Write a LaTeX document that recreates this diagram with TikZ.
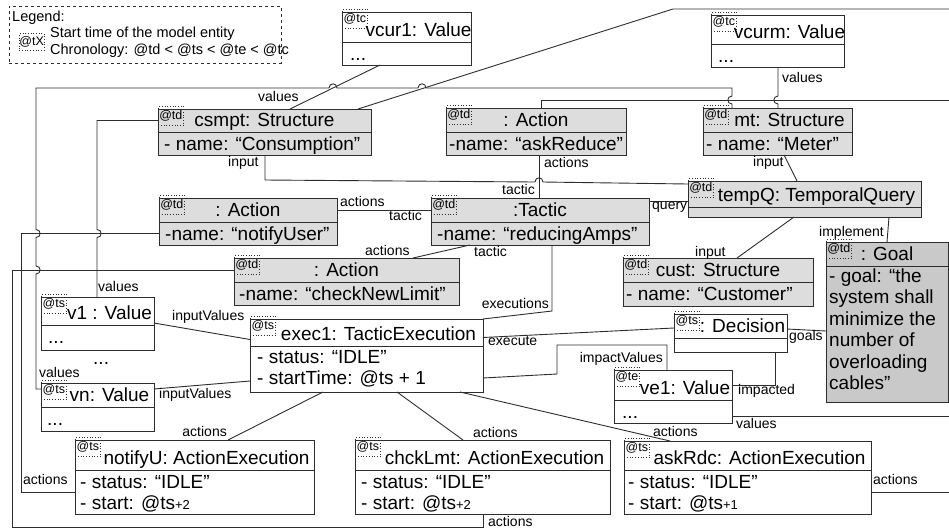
\documentclass[tikz,border=0pt]{standalone}
\usepackage{fontspec}
\setmainfont{Liberation Sans}
\usetikzlibrary{calc}

\definecolor{boxgray}{RGB}{221,221,221}
\definecolor{goalgray}{RGB}{201,201,201}
\definecolor{inkline}{RGB}{45,45,45}

\newcommand{\objfont}{\fontsize{19}{21.5}\selectfont}
\newcommand{\lblfont}{\fontsize{14}{16}\selectfont}
\newcommand{\tagfont}{\fontsize{12.5}{13}\selectfont}
\newcommand{\legfont}{\fontsize{14.5}{17}\selectfont}
\newcommand{\fl}{\rule{0pt}{14pt}}
\newcommand{\sml}[1]{{\fontsize{13}{13}\selectfont#1}}

\tikzset{
  objrow/.style={draw=inkline, line width=1pt, anchor=north west, inner sep=0pt, outer sep=0pt},
  tagbox/.style={draw=inkline, dotted, line width=0.7pt, anchor=north west, inner sep=0pt,
    minimum width=25pt, minimum height=19pt, font=\tagfont},
  objtitle/.style={anchor=base, inner sep=0pt, font=\objfont},
  objattr/.style={anchor=north west, inner sep=0pt, align=left, font=\objfont},
  lbl/.style={anchor=base west, inner sep=0pt, font=\lblfont},
  conn/.style={draw=inkline, line width=0.9pt},
}

% name, x, y, width, title height, attribute height, time tag, fill
\newcommand{\objbox}[8]{%
  \node[objrow, fill=#8, minimum width=#4pt, minimum height=#5pt] (#1) at (#2,#3) {};
  \node[objrow, fill=#8, minimum width=#4pt, minimum height=#6pt] (#1-a) at (#1.south west) {};
  \node[tagbox] (#1-t) at ([yshift=3pt]#1.north west) {@#7};
}

\begin{document}
\begin{tikzpicture}[x=1pt, y=-1pt]
\useasboundingbox (0,0) rectangle (949,531);

% legend
\node[objrow, dashed, line width=0.8pt, minimum width=272pt, minimum height=57pt] (legend) at (9,6) {};
\node[anchor=base west, inner sep=0pt, font=\legfont] (leg-head) at (12,21) {Legend:};
\node[tagbox, minimum width=24pt, minimum height=17pt] (leg-tag) at (19,33) {@tX};
\node[anchor=base west, inner sep=0pt, font=\legfont] (leg-start) at (50,37) {Start time of the model entity};
\node[anchor=base west, inner sep=0pt, font=\legfont] (leg-chron) at (50,54) {Chronology: @td < @ts < @te < @tc};

% model entities
\objbox{vcur1}{342}{12}{129}{30}{23}{tc}{white}
\node[objtitle] (vcur1-n) at ([xshift=12pt,yshift=6pt]vcur1.south) {vcur1: Value};
\node[objattr] (vcur1-v) at ([xshift=8pt,yshift=-4pt]vcur1-a.north west) {\fl...};

\objbox{vcurm}{711}{15}{133}{29}{23}{tc}{white}
\node[objtitle] (vcurm-n) at ([xshift=12pt,yshift=6pt]vcurm.south) {vcurm: Value};
\node[objattr] (vcurm-v) at ([xshift=7pt,yshift=-4pt]vcurm-a.north west) {\fl...};

\objbox{csmpt}{158}{109}{213}{23}{23}{td}{boxgray}
\node[objtitle] (csmpt-n) at ([yshift=6pt]csmpt.south) {csmpt: Structure};
\node[objattr] (csmpt-v) at ([xshift=6pt,yshift=-4pt]csmpt-a.north west) {\fl- name: “Consumption”};

\objbox{askrd}{446}{108}{180}{24}{23}{td}{boxgray}
\node[objtitle] (askrd-n) at ([yshift=6pt]askrd.south) {: Action};
\node[objattr] (askrd-v) at ([xshift=3pt,yshift=-4pt]askrd-a.north west) {\fl-name: “askReduce”};

\objbox{mt}{703}{108}{149}{24}{23}{td}{boxgray}
\node[objtitle] (mt-n) at ([xshift=12pt,yshift=6pt]mt.south) {mt: Structure};
\node[objattr] (mt-v) at ([xshift=3pt,yshift=-4pt]mt-a.north west) {\fl- name: “Meter”};

\objbox{tempq}{688}{181}{233}{26}{10}{td}{boxgray}
\node[objtitle] (tempq-n) at ([xshift=12pt,yshift=6pt]tempq.south) {tempQ: TemporalQuery};

\objbox{ntfy}{159}{198}{178}{24}{23}{td}{boxgray}
\node[objtitle] (ntfy-n) at ([yshift=6pt]ntfy.south) {: Action};
\node[objattr] (ntfy-v) at ([xshift=6pt,yshift=-4pt]ntfy-a.north west) {\fl-name: “notifyUser”};

\objbox{tactic}{431}{198}{218}{24}{23}{td}{boxgray}
\node[objtitle] (tactic-n) at ([yshift=6pt]tactic.south) {:Tactic};
\node[objattr] (tactic-v) at ([xshift=6pt,yshift=-4pt]tactic-a.north west) {\fl-name: “reducingAmps”};

\objbox{chknl}{234}{258}{225}{24}{23}{td}{boxgray}
\node[objtitle] (chknl-n) at ([yshift=6pt]chknl.south) {: Action};
\node[objattr] (chknl-v) at ([xshift=5pt,yshift=-4pt]chknl-a.north west) {\fl-name: “checkNewLimit”};

\objbox{cust}{623}{258}{190}{24}{24}{td}{boxgray}
\node[objtitle] (cust-n) at ([yshift=6pt]cust.south) {cust: Structure};
\node[objattr] (cust-v) at ([xshift=3pt,yshift=-4pt]cust-a.north west) {\fl- name: “Customer”};

\objbox{goal}{826}{242}{122}{24}{136}{td}{goalgray}
\node[objtitle] (goal-n) at ([yshift=6pt]goal.south) {: Goal};
\node[objattr] (goal-v) at ([xshift=3pt,yshift=-2pt]goal-a.north west)
  {\fl- goal: “the\\system shall\\minimize the\\number of\\overloading\\cables”};

\objbox{v1}{41}{297}{113}{28}{25}{ts}{white}
\node[objtitle] (v1-n) at ([xshift=12pt,yshift=6pt]v1.south) {v1 : Value};
\node[objattr] (v1-v) at ([xshift=7pt,yshift=-4pt]v1-a.north west) {\fl...};
\node[objattr, anchor=base west] (vdots) at (93,364) {...};

\objbox{vn}{41}{383}{113}{24}{24}{ts}{white}
\node[objtitle] (vn-n) at ([xshift=12pt,yshift=6pt]vn.south) {vn: Value};
\node[objattr] (vn-v) at ([xshift=6pt,yshift=-4pt]vn-a.north west) {\fl...};

\objbox{exec1}{250}{319}{233}{27}{46}{ts}{white}
\node[objtitle] (exec1-n) at ([xshift=12pt,yshift=6pt]exec1.south) {exec1: TacticExecution};
\node[objattr] (exec1-v) at ([xshift=7pt,yshift=-3pt]exec1-a.north west) {\fl- status: “IDLE”\\- startTime: @ts + 1};

\objbox{decis}{674}{314}{113}{24}{14}{ts}{white}
\node[objtitle] (decis-n) at ([xshift=12pt,yshift=6pt]decis.south) {: Decision};

\objbox{ve1}{614}{370}{118}{30}{23}{te}{white}
\node[objtitle] (ve1-n) at ([xshift=12pt,yshift=6pt]ve1.south) {ve1: Value};
\node[objattr] (ve1-v) at ([xshift=8pt,yshift=-4pt]ve1-a.north west) {\fl...};

\objbox{ntfyx}{75}{440}{239}{30}{44}{ts}{white}
\node[objtitle] (ntfyx-n) at ([xshift=12pt,yshift=6pt]ntfyx.south) {notifyU: ActionExecution};
\node[objattr] (ntfyx-v) at ([xshift=5pt,yshift=-4pt]ntfyx-a.north west) {\fl- status: “IDLE”\\- start: @ts\sml{+2}};

\objbox{chkx}{355}{440}{255}{30}{44}{ts}{white}
\node[objtitle] (chkx-n) at ([xshift=12pt,yshift=6pt]chkx.south) {chckLmt: ActionExecution};
\node[objattr] (chkx-v) at ([xshift=6pt,yshift=-4pt]chkx-a.north west) {\fl- status: “IDLE”\\- start: @ts\sml{+2}};

\objbox{askx}{624}{441}{247}{29}{44}{ts}{white}
\node[objtitle] (askx-n) at ([xshift=12pt,yshift=6pt]askx.south) {askRdc: ActionExecution};
\node[objattr] (askx-v) at ([xshift=4pt,yshift=-4pt]askx-a.north west) {\fl- status: “IDLE”\\- start: @ts\sml{+1}};

% links
\draw[conn] ($(vcur1-a.south west)+(38,0)$) -- ($(csmpt.north west)+(132,0)$);
\draw[conn] ($(csmpt.north west)+(200,0)$) -- (673,9) -- (949,9);
\draw[conn] ($(vn.north west)+(0,6)$) -- (36,389) -- (36,274)
  .. controls (41.5,274) and (41.5,266) .. (36,266) -- (36,237.5)
  .. controls (41.5,237.5) and (41.5,229.5) .. (36,229.5) -- (36,88) -- (329,88)
  .. controls (329,82.5) and (337,82.5) .. (337,88) -- (418,88)
  .. controls (418,82.5) and (426,82.5) .. (426,88) -- (732,88) -- (732,96)
  .. controls (726.5,96) and (726.5,104) .. (732,104) -- ($(mt.north west)+(29,0)$);
\draw[conn] ($(askrd.north west)+(95,0)$) |- (949,100);
\draw[conn] ($(vcurm-a.south west)+(67,0)$) -- (778,96)
  .. controls (772.5,96) and (772.5,104) .. (778,104) -- ($(mt.north west)+(75,0)$);
\draw[conn] ($(v1.north west)+(56,0)$) -- (97,237.5)
  .. controls (102.5,237.5) and (102.5,229.5) .. (97,229.5) -- (97,120.5) -- (csmpt.west);
\draw[conn] (ntfy-a.west) -| (21,492) -- (ntfyx-a.west);
\draw[conn] (chknl.west) -| (12,527) -- (483,527) -- ($(chkx-a.south west)+(128,0)$);
\draw[conn] ($(askrd-a.south west)+(93,0)$) -- ($(tactic.north west)+(108,0)$);
\draw[conn] ($(csmpt-a.south west)+(107,0)$) -- (265,180) -- (535,182)
  .. controls (535,176.5) and (543,176.5) .. (543,182) -- ($(tempq.north west)+(0,3)$);
\draw[conn] ($(mt-a.south west)+(81,0)$) -- ($(tempq.north west)+(109,0)$);
\draw[conn] ($(tactic.north east)+(0,3)$) -- ($(tempq.north west)+(0,20)$);
\draw[conn] ($(tempq-a.south west)+(106,0)$) -- ($(cust.north west)+(114,0)$);
\draw[conn] ($(tempq-a.south west)+(201,0)$) -- ($(goal.north west)+(61,0)$);
\draw[conn] (ntfy.east) -- (tactic.west);
\draw[conn] ($(chknl.north west)+(179,0)$) -- ($(tactic-a.south west)+(39,0)$);
\draw[conn] ($(tactic-a.south west)+(121,0)$) -- (552,311) -- (exec1.north east);
\draw[conn] ($(exec1.east)+(0,5)$) -- ($(decis.west)+(0,2)$);
\draw[conn] ($(exec1-a.east)+(0,9)$) -- (557,374) -- (557,345) -- (667,345) -- ($(ve1.north west)+(53,0)$);
\draw[conn] ($(decis-a.south west)+(101,0)$) |- (ve1.east);
\draw[conn] ($(decis.east)+(0,3)$) -- ($(goal-a.west)+(0,-3)$);
\draw[conn] ($(ve1-a.east)+(0,5)$) -- (949,416.5);
\draw[conn] (askx-a.east) -- (949,492);
\draw[conn] ($(v1.east)+(0,12)$) -- ($(exec1.west)+(0,7)$);
\draw[conn] ($(vn.east)+(0,-6)$) -- ($(exec1-a.west)+(0,12)$);
\draw[conn] ($(exec1-a.south west)+(73,0)$) -- ($(ntfyx.north west)+(153,0)$);
\draw[conn] ($(exec1-a.south west)+(147,0)$) -- ($(chkx.north west)+(108,0)$);
\draw[conn] ($(exec1-a.south west)+(210,0)$) -- ($(askx.north west)+(46,0)$);

% link labels
\node[lbl] (l-vcur1) at (258,101) {values};
\node[lbl] (l-vn) at (39,377) {values};
\node[lbl] (l-vcurm) at (782,82) {values};
\node[lbl] (l-v1) at (98,291) {values};
\node[lbl] (l-ntfy) at (23,484) {actions};
\node[lbl] (l-chknl) at (488,526) {actions};
\node[lbl] (l-askrd1) at (544,167) {actions};
\node[lbl, anchor=base east] (l-askrd2) at (535,194) {tactic};
\node[lbl] (l-csin) at (228,166) {input};
\node[lbl] (l-mtin) at (753,166) {input};
\node[lbl] (l-query) at (652,209) {query};
\node[lbl] (l-custin) at (695,256) {input};
\node[lbl] (l-impl) at (819,236) {implement};
\node[lbl] (l-ntfy1) at (340,206) {actions};
\node[lbl] (l-ntfy2) at (389,220) {tactic};
\node[lbl] (l-chk1) at (365,255) {actions};
\node[lbl] (l-chk2) at (474,256) {tactic};
\node[lbl, anchor=base east] (l-exe) at (549,308) {executions};
\node[lbl] (l-execute) at (488,345) {execute};
\node[lbl, anchor=base east] (l-impv) at (663,362) {impactValues};
\node[lbl] (l-impd) at (738,394) {impacted};
\node[lbl] (l-goals) at (789,340) {goals};
\node[lbl] (l-ve1) at (736,428) {values};
\node[lbl] (l-askx) at (873,484) {actions};
\node[lbl] (l-in1) at (172,320) {inputValues};
\node[lbl] (l-in2) at (159,398) {inputValues};
\node[lbl, anchor=base east] (l-a1) at (227,436) {actions};
\node[lbl] (l-a2) at (473,437) {actions};
\node[lbl] (l-a3) at (653,436) {actions};
\end{tikzpicture}
\end{document}
